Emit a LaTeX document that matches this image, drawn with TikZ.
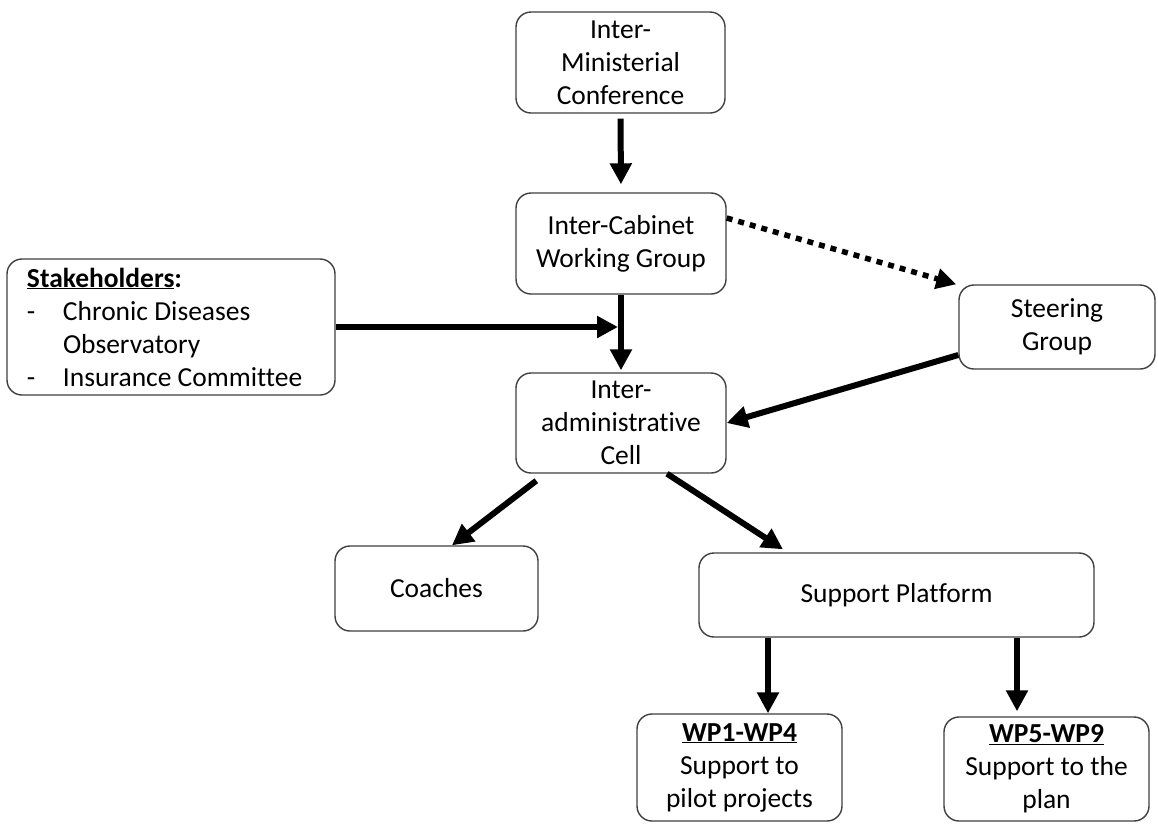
\documentclass[tikz,border=0pt]{standalone}
\usepackage{fontspec}
\setmainfont{Carlito}[Ligatures=NoCommon]
\usetikzlibrary{arrows.meta,calc}
\definecolor{boxline}{HTML}{3F3F3F}
\begin{document}
\begin{tikzpicture}[x=1pt,y=-1pt,
  box/.style={draw=boxline,line width=1.4pt,rounded corners=15pt,align=center,
    inner sep=0pt,font=\fontsize{27.5}{33}\selectfont},
  arr/.style={line width=6pt,-{Triangle[length=21pt,width=21pt]}},
  dotarr/.style={line width=5.5pt,dash pattern=on 6pt off 6pt,
    -{Triangle[length=20pt,width=20pt]}}]
\useasboundingbox (0,0) rectangle (1158,823);

% organisation boxes
\node[box,minimum width=209pt,minimum height=101pt] (imc) at (620.5,62.5)
  {Inter-\\Ministerial\\Conference};
\node[box,minimum width=210pt,minimum height=101pt] (icwg) at (621,243.5)
  {Inter-Cabinet\\Working Group};
\node[box,minimum width=210pt,minimum height=100pt] (iac) at (621,423)
  {Inter-\\administrative\\Cell};
\node[box,align=flush left,text width=288pt,inner xsep=20pt,minimum height=136pt] (stake) at (171,327)
  {\textbf{\underline{Stakeholders}:}\\
   \makebox[36pt][l]{-}Chronic Diseases\\
   \hspace*{36pt}Observatory\\
   \makebox[36pt][l]{-}Insurance Committee};
\node[box,minimum width=196pt,minimum height=84pt] (steer) at (1057,327)
  {Steering\\Group};
\node[box,minimum width=203pt,minimum height=85pt] (coach) at (436.5,588.5)
  {Coaches};
\node[box,minimum width=395pt,minimum height=84pt] (supp) at (896.5,595)
  {Support Platform};
\node[box,minimum width=205pt,minimum height=107pt] (wpa) at (739.5,767.5)
  {\textbf{\underline{WP1-WP4}}\\Support to\\pilot projects};
\node[box,minimum width=205pt,minimum height=104pt] (wpb) at (1046.5,769)
  {\textbf{\underline{WP5-WP9}}\\Support to the\\plan};

% helper points for the connectors
\coordinate (join) at (icwg.south |- stake.east);
\coordinate (wpain) at ([xshift=28.5pt]wpa.north);
\coordinate (wpbin) at ([xshift=-29.5pt]wpb.north);

% connectors
\draw[arr,shorten <=5pt,shorten >=8pt] (imc.south) -- (icwg.north);
\draw[arr,shorten >=2pt] (icwg.south) -- (iac.north);
\draw[arr,shorten >=3pt] (stake.east) -- (join);
\draw[dotarr] ([yshift=25.5pt]icwg.east) -- ([xshift=-2pt]steer.north west);
\draw[arr] ([yshift=-28pt]steer.west) -- (iac.east);
\draw[arr] ([xshift=21pt,yshift=-7pt]iac.south west) -- ([xshift=15.5pt]coach.north);
\draw[arr] ([xshift=46pt]iac.south) -- ([xshift=-113.5pt,yshift=3pt]supp.north);
\draw[arr] (supp.south -| wpain) -- (wpain);
\draw[arr,shorten >=5pt] (supp.south -| wpbin) -- (wpbin);
\end{tikzpicture}
\end{document}
